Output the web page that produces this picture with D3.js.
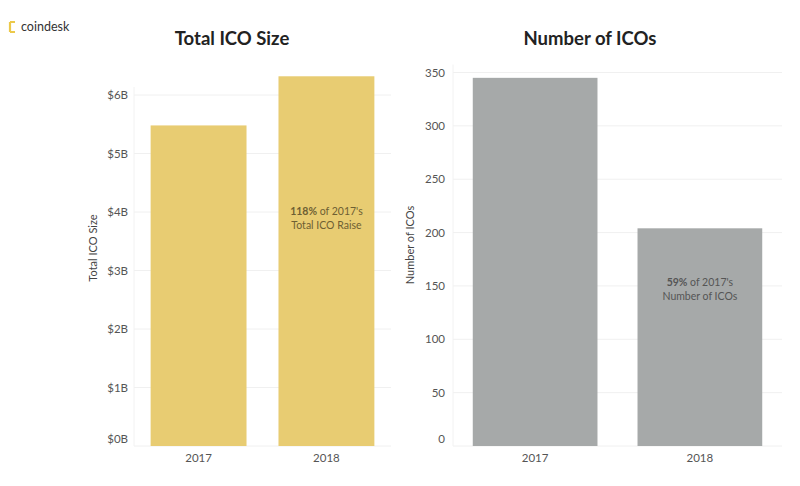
<!DOCTYPE html>
<html><head><meta charset="utf-8">
<script src="https://cdn.jsdelivr.net/npm/d3@7"></script>
<style>body{margin:0;background:#fff;} text{font-family:Lato,"Open Sans",sans-serif;}</style>
</head><body>
<svg id="c" width="800" height="486"></svg>
<script>
const years = ["2017", "2018"];
const icoSizeB = [5.48, 6.32];
const icoCount = [345, 204];
const sizeTicks = [0, 1, 2, 3, 4, 5, 6];
const countTicks = [0, 50, 100, 150, 200, 250, 300, 350];

const svg = d3.select("#c");

// logo
const logo = svg.append("g");
logo.append("path").attr("d","M10,22 h5 M10,22 v10 M10,32 h5").attr("stroke","#ecc94b").attr("stroke-width",2.2).attr("fill","none");
logo.append("text").attr("x",21).attr("y",31).attr("font-size",12.5).attr("fill","#333").text("coindesk");

function panel(o){
  const g = svg.append("g");
  const x = d3.scaleBand().domain(years).range(o.xr).paddingInner(o.pi).paddingOuter(o.po);
  const y = d3.scaleLinear().domain(o.dom).range([446, o.top]);
  g.selectAll("line.grid").data(o.ticks).join("line")
    .attr("x1", o.xr[0]).attr("x2", o.xr[1])
    .attr("y1", d=>y(d)).attr("y2", d=>y(d))
    .attr("stroke","#f0f0f0").attr("stroke-width",1);
  g.append("line").attr("x1",o.xr[0]).attr("x2",o.xr[0]).attr("y1",y(o.dom[1])-8).attr("y2",446)
    .attr("stroke","#f2f2f2");
  g.selectAll("rect.bar").data(o.vals).join("rect")
    .attr("x",(d,i)=>x(years[i])).attr("width",x.bandwidth())
    .attr("y",d=>y(d)).attr("height",d=>y(0)-y(d))
    .attr("fill",o.color);
  const ya = d3.axisLeft(y).tickValues(o.ticks).tickSize(0).tickFormat(o.fmt).tickPadding(0);
  const ag = g.append("g").attr("transform",`translate(${o.labelX},0)`).call(ya);
  ag.select(".domain").remove();
  ag.selectAll("text").attr("font-size",11.5).attr("fill","#555").attr("font-family","Lato,sans-serif")
    .attr("dy", d=> d===0 ? "-0.3em" : "0.32em");
  const xa = d3.axisBottom(x).tickSize(0).tickPadding(6);
  const xg = g.append("g").attr("transform","translate(0,448)").call(xa);
  xg.select(".domain").remove();
  xg.selectAll("text").attr("font-size",11.5).attr("fill","#555").attr("font-family","Lato,sans-serif");
  g.append("text").attr("x",o.titleX).attr("y",45).attr("text-anchor","middle")
    .attr("font-size",18.5).attr("font-weight",700).attr("fill","#222").text(o.title);
  g.append("text").attr("transform",`translate(${o.ylabX},${o.ylabY}) rotate(-90)`).attr("text-anchor","middle")
    .attr("font-size",11).attr("fill","#444").text(o.ylab);
  const cx = x(years[1]) + x.bandwidth()/2;
  const t1 = g.append("text").attr("x",cx).attr("y",o.annY).attr("text-anchor","middle")
    .attr("font-size",10.5).attr("fill",o.annColor);
  t1.append("tspan").attr("font-weight",700).text(o.annBold);
  t1.append("tspan").text(" of 2017's");
  g.append("text").attr("x",cx).attr("y",o.annY+14).attr("text-anchor","middle")
    .attr("font-size",10.5).attr("fill",o.annColor).text(o.ann2);
}

panel({xr:[134,391], pi:0.25, po:0.13, dom:[0,6], top:95, vals:icoSizeB, ticks:sizeTicks,
  fmt:d=>"$"+d+"B", labelX:128, color:"#e8cc72", title:"Total ICO Size", titleX:232,
  ylab:"Total ICO Size", ylabX:97, ylabY:248, annY:215, annBold:"118%", ann2:"Total ICO Raise", annColor:"#6e5f33"});
panel({xr:[453,782], pi:0.243, po:0.12, dom:[0,350], top:72.5, vals:icoCount, ticks:countTicks,
  fmt:d=>d, labelX:445, color:"#a6a9a9", title:"Number of ICOs", titleX:590,
  ylab:"Number of ICOs", ylabX:414, ylabY:245, annY:286, annBold:"59%", ann2:"Number of ICOs", annColor:"#555"});
</script>
</body></html>
